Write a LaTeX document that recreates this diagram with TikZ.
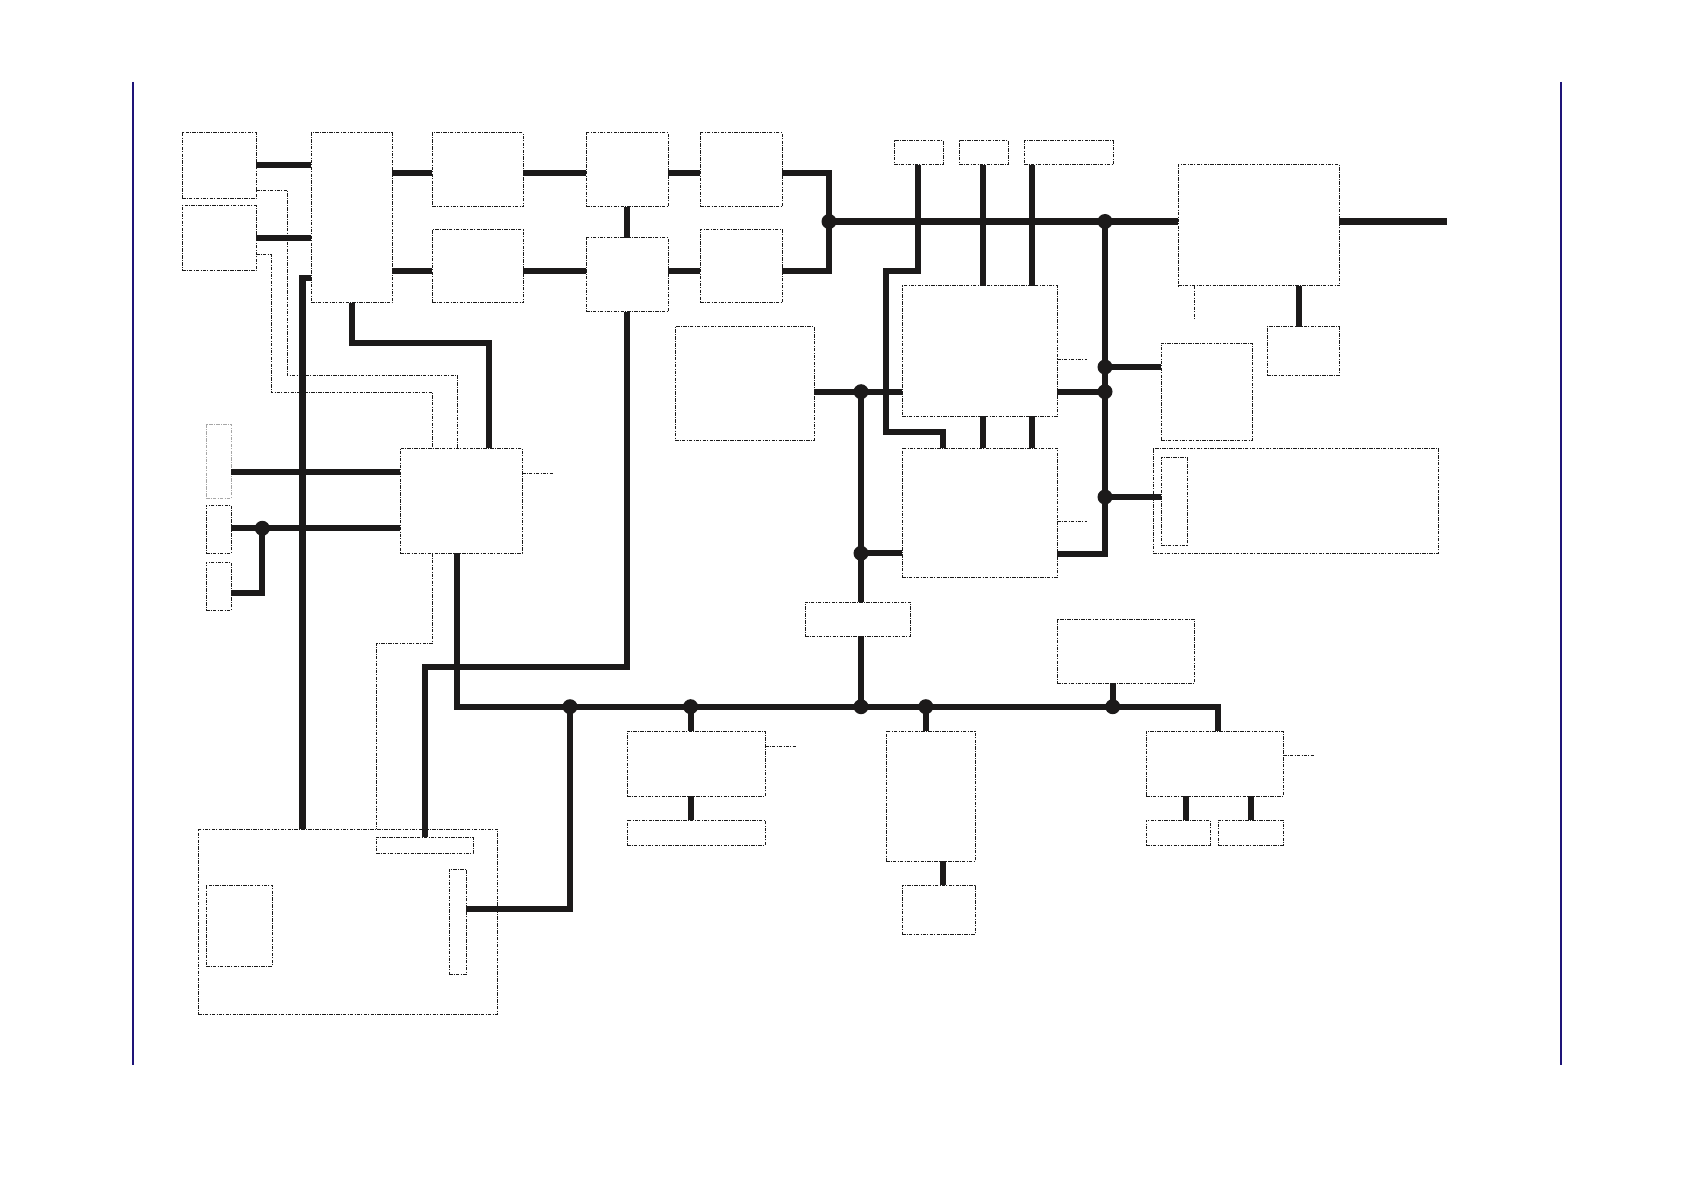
\documentclass[tikz,border=0pt]{standalone}
\begin{document}
\definecolor{busc}{HTML}{1C1A1A}
\definecolor{linec}{HTML}{1A1A1A}
\definecolor{bluec}{HTML}{1E1478}
\begin{tikzpicture}[x=1pt,y=-1pt,
  box/.style={draw=linec, line width=1pt, dash pattern=on 3.5pt off 1.2pt on 1pt off 1.2pt, rectangle, inner sep=0pt, outer sep=0pt},
  greybox/.style={box, draw=black!35},
  bus/.style={draw=busc, line width=6.2pt, line join=miter},
  thinline/.style={draw=linec, line width=0.9pt, dash pattern=on 3.5pt off 1.2pt on 1pt off 1.2pt},
  dot/.style={circle, fill=busc, inner sep=0pt, minimum size=15pt},
  edgeline/.style={draw=bluec, line width=1.4pt}]
\newcommand\mybox[6][box]{\node[#1, minimum width={(#5)-(#3)}, minimum height={(#6)-(#4)}] (#2) at ({((#3)+(#5))/2},{((#4)+(#6))/2}) {};}
\useasboundingbox (0,0) rectangle (1684,1190);
% page edge lines
\coordinate (bl1) at (133,82); \coordinate (bl2) at (133,1065);
\coordinate (br1) at (1561,82); \coordinate (br2) at (1561,1065);
\draw[edgeline] (bl1) -- (bl2);
\draw[edgeline] (br1) -- (br2);
% boxes
\mybox{A1}{182}{133}{256}{199}
\mybox{A2}{182}{206}{256}{271}
\mybox{B}{311}{133}{392}{303}
\mybox{C1}{432}{133}{523}{207}
\mybox{C2}{432}{230}{523}{303}
\mybox{D1}{586}{133}{668}{207}
\mybox{D2}{586}{238}{668}{312}
\mybox{E1}{700}{133}{782}{207}
\mybox{E2}{700}{230}{782}{303}
\mybox{F1}{894}{141}{943}{165}
\mybox{F2}{959}{141}{1008}{165}
\mybox{F3}{1024}{141}{1113}{165}
\mybox{G}{675}{327}{814}{440}
\mybox{H1}{902}{286}{1057}{416}
\mybox{H2}{902}{448}{1057}{577}
\mybox{J}{1178}{165}{1339}{286}
\mybox{K}{1267}{327}{1339}{375}
\mybox{L}{1161}{343}{1252}{440}
\mybox{M}{1153}{448}{1438}{553}
\mybox{Mi}{1161}{457}{1187}{545}
\mybox{N}{400}{448}{522}{553}
\mybox[greybox]{R1}{206}{424}{231}{498}
\mybox{R2}{206}{505}{231}{553}
\mybox{R3}{206}{562}{231}{610}
\mybox{Q}{198}{829}{497}{1014}
\mybox{P}{376}{837}{473}{853}
\mybox{Qa}{206}{885}{272}{966}
\mybox{Qb}{449}{869}{466}{974}
\mybox{I}{805}{602}{910}{636}
\mybox{T1}{627}{731}{765}{796}
\mybox{T2}{627}{820}{765}{845}
\mybox{U}{886}{731}{975}{861}
\mybox{V}{902}{885}{975}{934}
\mybox{W}{1057}{619}{1194}{683}
\mybox{S}{1146}{731}{1283}{796}
\mybox{S1}{1146}{820}{1210}{845}
\mybox{S2}{1218}{820}{1283}{845}
% junctions
\node[dot] (j1) at (829,221.5) {};
\node[dot] (j2) at (1105,221.5) {};
\node[dot] (j3) at (1105,367) {};
\node[dot] (j4) at (1105,391.7) {};
\node[dot] (j5) at (1105,497) {};
\node[dot] (j6) at (861,391.7) {};
\node[dot] (j7) at (861,553.3) {};
\node[dot] (j8) at (861,706.7) {};
\node[dot] (j9) at (570,706.7) {};
\node[dot] (j10) at (690.6,706.7) {};
\node[dot] (j11) at (925.8,706.7) {};
\node[dot] (j12) at (1112.7,706.7) {};
\node[dot] (j13) at (262.3,528.3) {};
\coordinate (jout) at (1447,221.5);
% thick connectors, top-left cluster
\draw[bus] (A1.east |- 0,164.7) -- (B.west |- 0,164.7);
\draw[bus] (A2.east |- 0,237.7) -- (B.west |- 0,237.7);
\draw[bus] (B.east |- 0,173.3) -- (C1.west |- 0,173.3);
\draw[bus] (C1.east |- 0,173.3) -- (D1.west |- 0,173.3);
\draw[bus] (D1.east |- 0,173.3) -- (E1.west |- 0,173.3);
\draw[bus] (B.east |- 0,270.7) -- (C2.west |- 0,270.7);
\draw[bus] (C2.east |- 0,270.7) -- (D2.west |- 0,270.7);
\draw[bus] (D2.east |- 0,270.7) -- (E2.west |- 0,270.7);
\draw[bus] (D1.south) -- (D2.north);
\draw[bus] (E1.east |- 0,173.3) -- (829,173.3) -- (829,270.7) -- (E2.east |- 0,270.7);
% top bus
\draw[bus] (j1.center) -- (J.west |- j1.center);
\draw[bus] (J.east |- j1.center) -- (jout);
\draw[bus] (J.south -| 1299,0) -- (K.north -| 1299,0);
% right vertical bus
\draw[bus] (j2.center) -- (1105,554) -- (H2.east |- 0,554);
\draw[bus] (j3.center) -- (L.west |- j3.center);
\draw[bus] (H1.east |- j4.center) -- (j4.center);
\draw[bus] (j5.center) -- (Mi.west |- j5.center);
% F boxes to H
\draw[bus] (F1.south -| 917.7,0) -- (917.7,270.7) -- (885.7,270.7) -- (885.7,431.7) -- (943.3,431.7) -- (H2.north -| 943.3,0);
\draw[bus] (F2.south -| 983.3,0) -- (H1.north -| 983.3,0);
\draw[bus] (F3.south -| 1032,0) -- (H1.north -| 1032,0);
\draw[bus] (H1.south -| 983.3,0) -- (H2.north -| 983.3,0);
\draw[bus] (H1.south -| 1031.7,0) -- (H2.north -| 1031.7,0);
% G and middle vertical
\draw[bus] (G.east |- j6.center) -- (j6.center) -- (H1.west |- j6.center);
\draw[bus] (j6.center) -- (j7.center) -- (I.north -| j7.center);
\draw[bus] (j7.center) -- (H2.west |- j7.center);
\draw[bus] (I.south -| j8.center) -- (j8.center);
% bottom bus
\draw[bus] (N.south -| 456.7,0) -- (456.7,706.7) -- (1218,706.7) -- (S.north -| 1218,0);
\draw[bus] (j9.center) -- (570,908.7) -- (Qb.east |- 0,908.7);
\draw[bus] (j10.center) -- (T1.north -| j10.center);
\draw[bus] (T1.south -| 690.6,0) -- (T2.north -| 690.6,0);
\draw[bus] (j11.center) -- (U.north -| j11.center);
\draw[bus] (U.south -| 943,0) -- (V.north -| 943,0);
\draw[bus] (j12.center) -- (W.south -| j12.center);
\draw[bus] (S.south -| 1185.7,0) -- (S1.north -| 1185.7,0);
\draw[bus] (S.south -| 1251.2,0) -- (S2.north -| 1251.2,0);
% left cluster
\draw[bus] (B.south -| 351.7,0) -- (351.7,343.3) -- (489.3,343.3) -- (N.north -| 489.3,0);
\draw[bus] (B.west |- 0,278.3) -- (302.5,278.3) -- (Q.north -| 302.5,0);
\draw[bus] (D2.south -| 627,0) -- (627,666.7) -- (425,666.7) -- (P.north -| 425,0);
\draw[bus] (N.west |- 0,472.3) -- (R1.east |- 0,472.3);
\draw[bus] (N.west |- j13.center) -- (R2.east |- j13.center);
\draw[bus] (j13.center) -- (262.3,593.3) -- (R3.east |- 0,593.3);
% thin dash-dot lines
\draw[thinline] (A1.east |- 0,190.3) -- (287.3,190.3) -- (287.3,375.3) -- (457.3,375.3) -- (N.north -| 457.3,0);
\draw[thinline] (A2.east |- 0,254.3) -- (271,254.3) -- (271,392.3) -- (432.7,392.3) -- (N.north -| 432.7,0);
\draw[thinline] (N.south -| 432.3,0) -- (432.3,643.3) -- (376.5,643.3) -- (Q.north -| 376.5,0);
\coordinate (sN) at (554,473.3);
\coordinate (sH1) at (1087.3,359.3);
\coordinate (sH2) at (1087.3,521.3);
\coordinate (sJ) at (1194.3,318.7);
\coordinate (sT) at (795.8,746.4);
\coordinate (sS) at (1313.5,755);
\draw[thinline] (N.east |- sN) -- (sN);
\draw[thinline] (H1.east |- sH1) -- (sH1);
\draw[thinline] (H2.east |- sH2) -- (sH2);
\draw[thinline] (J.south -| sJ) -- (sJ);
\draw[thinline] (T1.east |- sT) -- (sT);
\draw[thinline] (S.east |- sS) -- (sS);
\end{tikzpicture}
\end{document}
